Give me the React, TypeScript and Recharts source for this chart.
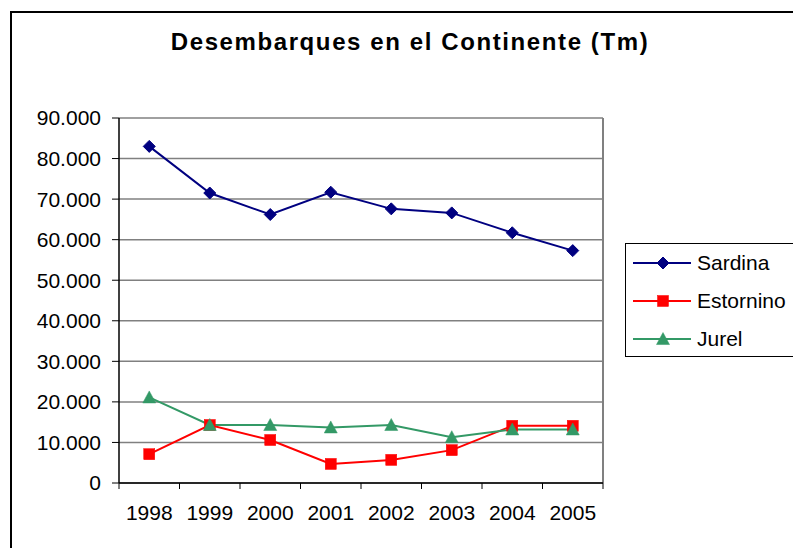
import React from "react";
import { LineChart, Line, XAxis, YAxis, CartesianGrid, ReferenceLine } from "recharts";

const years = ["1998", "1999", "2000", "2001", "2002", "2003", "2004", "2005"];
const sardina = [83000, 71500, 66200, 71700, 67600, 66600, 61700, 57300];
const estornino = [7100, 14300, 10600, 4700, 5700, 8100, 14100, 14100];
const jurel = [21100, 14300, 14300, 13700, 14300, 11300, 13200, 13200];
const yTicks = [0, 10000, 20000, 30000, 40000, 50000, 60000, 70000, 80000, 90000];
const xBoundaries = [0, 1, 2, 3, 4, 5, 6, 7, 8];

const title = "Desembarques en el Continente (Tm)";
const FONT = "Arial, 'Liberation Sans', sans-serif";

const series = [
  { key: "sardina", name: "Sardina", color: "#000080", shape: "diamond" },
  { key: "estornino", name: "Estornino", color: "#FF0000", shape: "square" },
  { key: "jurel", name: "Jurel", color: "#339966", shape: "triangle" },
];

const data = years.map((y, i) => ({
  pos: i + 0.5,
  year: y,
  sardina: sardina[i],
  estornino: estornino[i],
  jurel: jurel[i],
}));

const fmt = (v: number) => String(v).replace(/\B(?=(\d{3})+(?!\d))/g, ".");

function Marker({ cx, cy, shape, color }: any) {
  if (cx == null || cy == null || isNaN(cx) || isNaN(cy)) return null;
  if (shape === "diamond") {
    const r = 6;
    return <path d={`M${cx},${cy - r}L${cx + r},${cy}L${cx},${cy + r}L${cx - r},${cy}Z`} fill={color} stroke={color} strokeWidth={1} />;
  }
  if (shape === "square") {
    const r = 5.5;
    return <rect x={cx - r} y={cy - r} width={2 * r} height={2 * r} fill={color} stroke={color} strokeWidth={0.5} />;
  }
  const r = 6.5;
  return <path d={`M${cx},${cy - r}L${cx + r},${cy + r * 0.85}L${cx - r},${cy + r * 0.85}Z`} fill={color} stroke={color} strokeWidth={0.5} />;
}

function XTick(props: any) {
  const { x, y, payload, width } = props;
  const idx = payload.value;
  if (idx >= years.length) return null;
  const band = (width || 0) / years.length;
  return (
    <text x={x + band / 2} y={y} dy="0.71em" textAnchor="middle" fontSize={21} fontFamily={FONT} fill="#000">
      {years[idx]}
    </text>
  );
}

function LegendBox() {
  return (
    <div
      style={{
        position: "absolute",
        left: 625,
        top: 243,
        width: 180,
        height: 112,
        border: "1px solid #000",
        background: "#fff",
        fontFamily: FONT,
        fontSize: 21,
      }}
    >
      {series.map((s, i) => (
        <div key={s.key} style={{ position: "absolute", left: 0, top: 7 + i * 38, height: 24, display: "flex", alignItems: "center" }}>
          <svg width={70} height={24} style={{ display: "block" }}>
            <line x1={7} x2={65} y1={12} y2={12} stroke={s.color} strokeWidth={2} />
            <Marker cx={37} cy={12} shape={s.shape} color={s.color} />
          </svg>
          <span style={{ marginLeft: 1, lineHeight: "24px" }}>{s.name}</span>
        </div>
      ))}
    </div>
  );
}

export default function App() {
  return (
    <div style={{ position: "absolute", left: 0, top: 0, width: 793, height: 548, overflow: "hidden", background: "#fff" }}>
      <div
        style={{
          position: "absolute",
          left: 10,
          top: 11,
          width: 900,
          height: 700,
          borderLeft: "2px solid #000",
          borderTop: "2px solid #000",
        }}
      />
      <div
        style={{
          position: "absolute",
          left: 0,
          width: 820,
          top: 27,
          textAlign: "center",
          fontFamily: FONT,
          fontWeight: "bold",
          fontSize: 24,
          lineHeight: "30px",
          letterSpacing: 1.6,
        }}
      >
        {title}
      </div>
      <div style={{ position: "absolute", left: 0, top: 0 }}>
        <LineChart width={793} height={548} data={data} margin={{ top: 118, right: 190, bottom: 20, left: 10 }}>
          <CartesianGrid horizontal vertical={false} stroke="#808080" strokeWidth={1.5} />
          <XAxis
            dataKey="pos"
            type="number"
            domain={[0, years.length]}
            ticks={xBoundaries}
            interval={0}
            height={45}
            axisLine={{ stroke: "#000", strokeWidth: 1.5 }}
            tickLine={{ stroke: "#000", strokeWidth: 1 }}
            tickSize={6}
            tickMargin={16}
            tick={<XTick />}
          />
          <YAxis
            type="number"
            domain={[0, 90000]}
            ticks={yTicks}
            interval={0}
            width={109}
            tickFormatter={fmt}
            axisLine={{ stroke: "#000", strokeWidth: 1.5 }}
            tickLine={{ stroke: "#000", strokeWidth: 1 }}
            tickSize={7}
            tickMargin={11}
            tick={{ fill: "#000", fontSize: 21, fontFamily: FONT }}
          />
          <ReferenceLine x={years.length} stroke="#808080" strokeWidth={2} />
          {series.map((s) => (
            <Line
              key={s.key}
              type="linear"
              dataKey={s.key}
              name={s.name}
              stroke={s.color}
              strokeWidth={2}
              isAnimationActive={false}
              dot={(p: any) => <Marker key={`${s.key}-${p.index}`} cx={p.cx} cy={p.cy} shape={s.shape} color={s.color} />}
              activeDot={false}
            />
          ))}
        </LineChart>
      </div>
      <LegendBox />
    </div>
  );
}
